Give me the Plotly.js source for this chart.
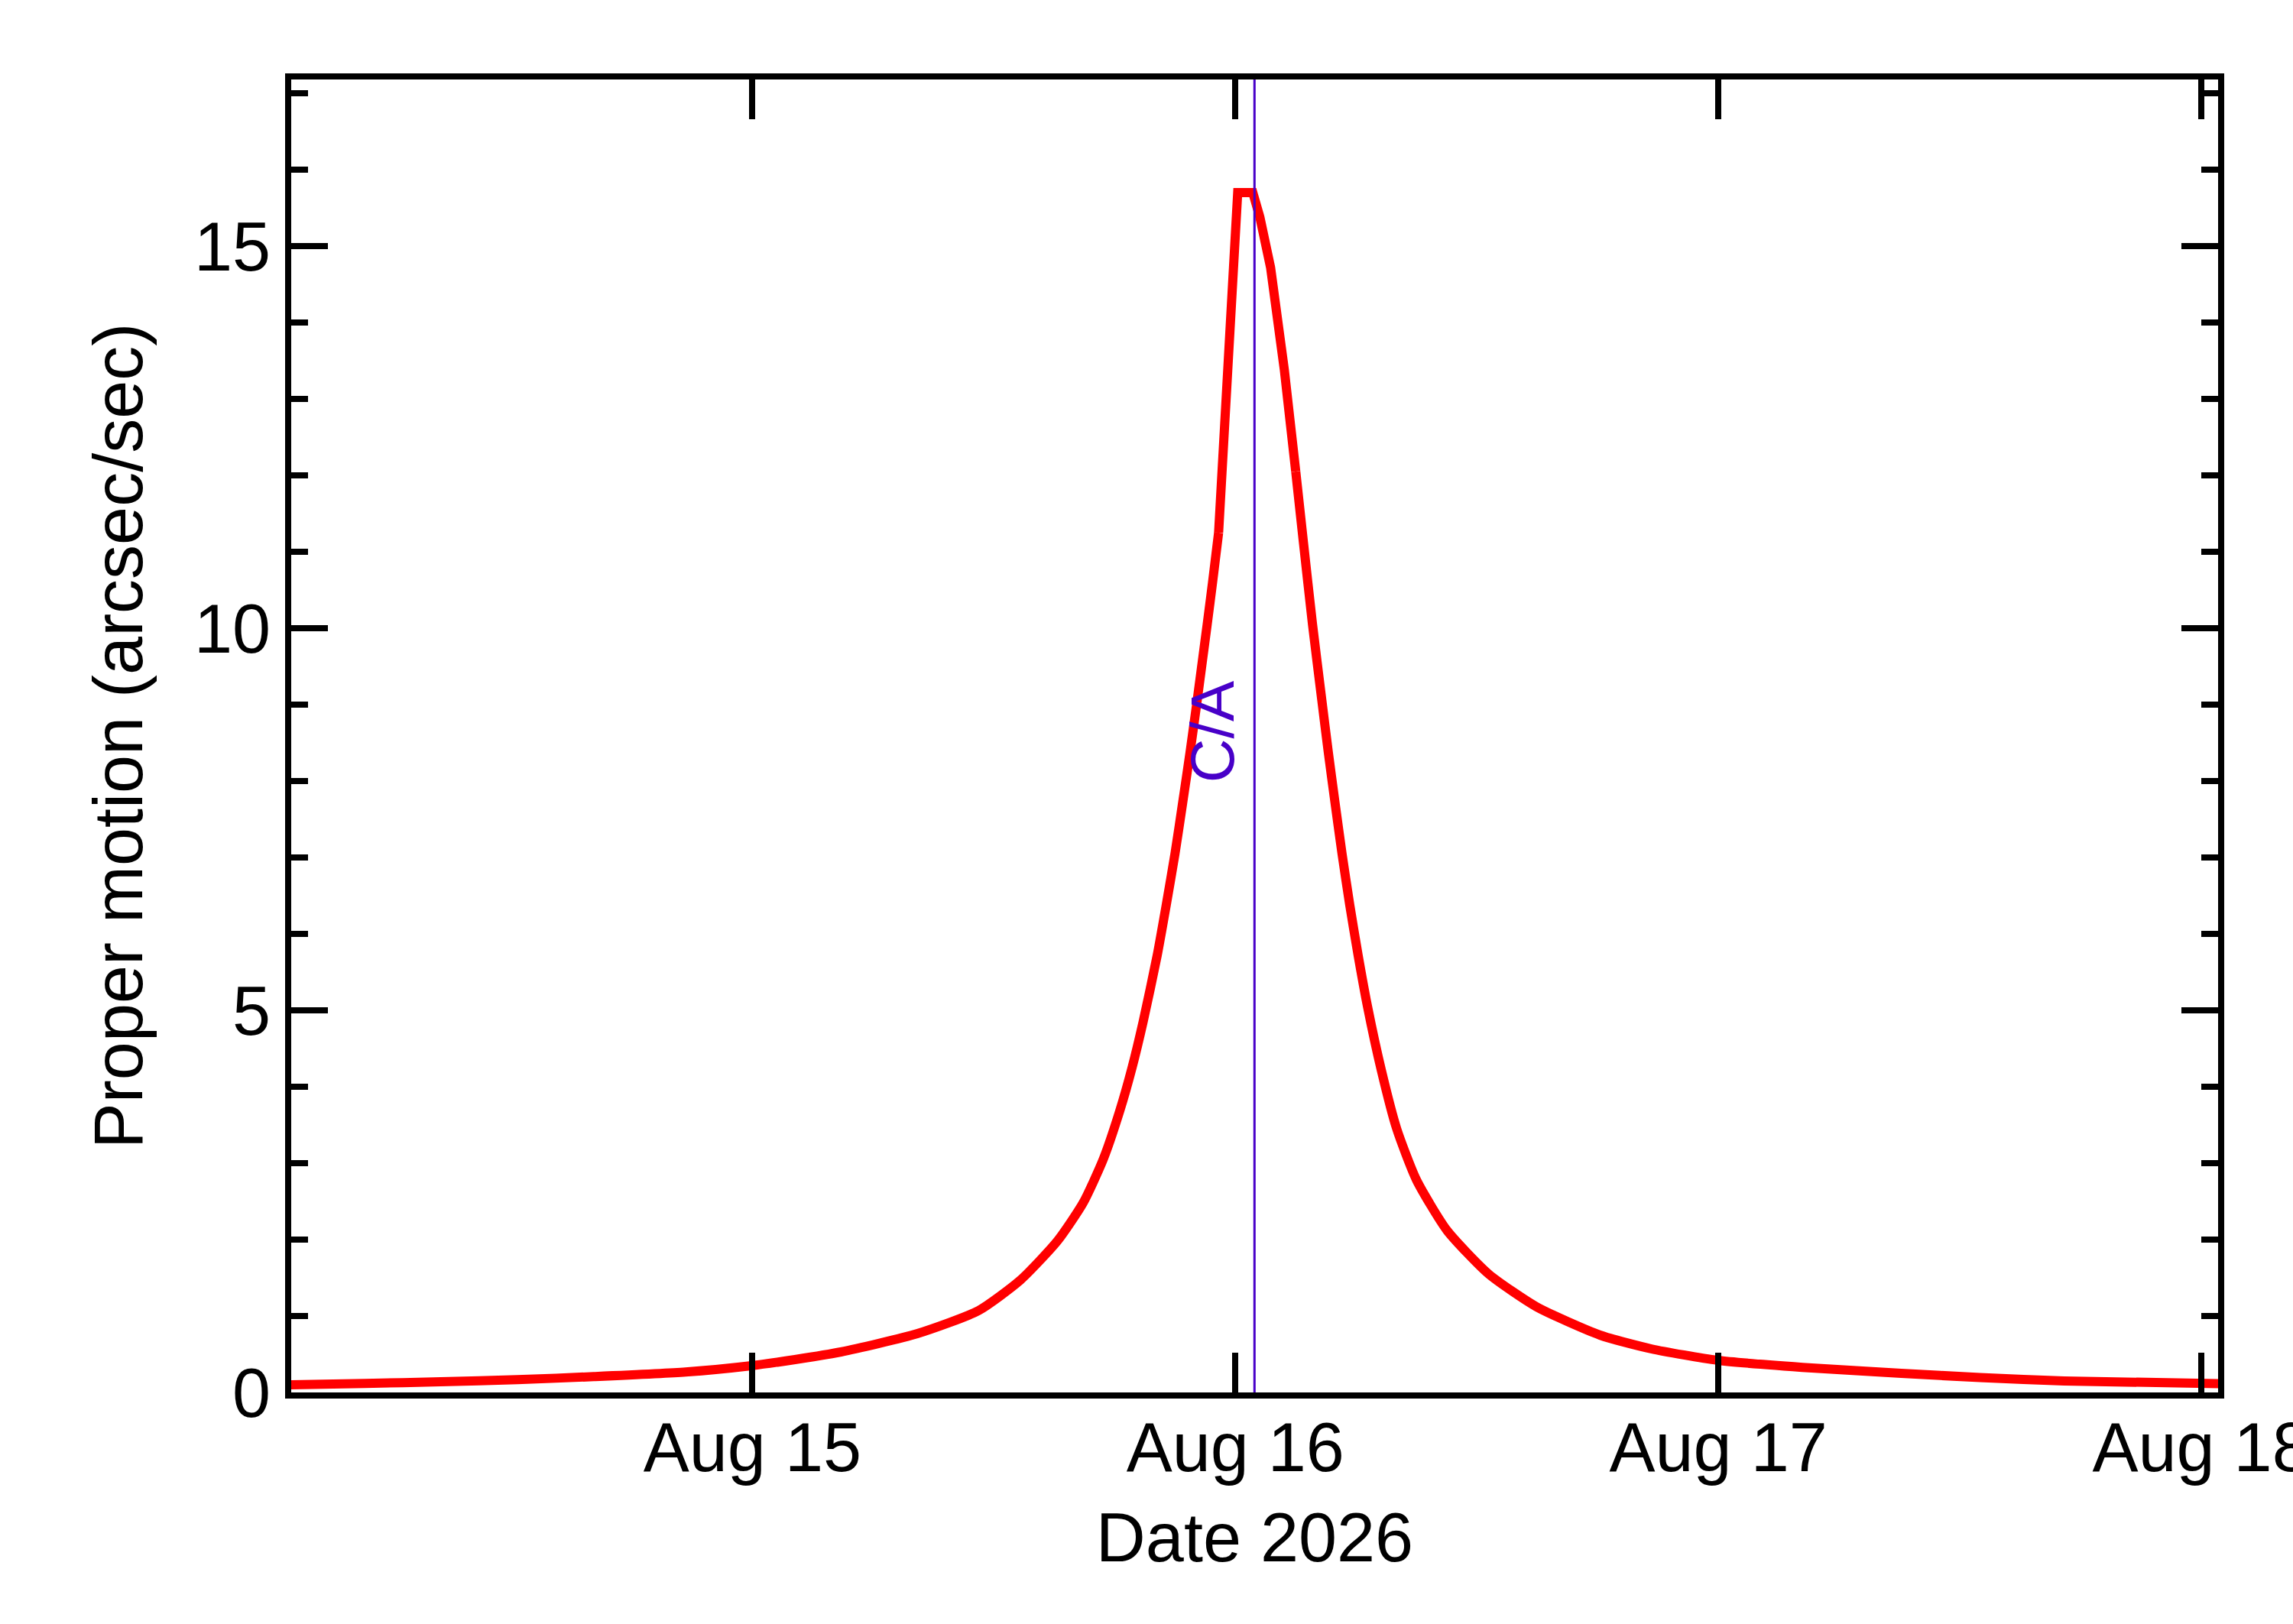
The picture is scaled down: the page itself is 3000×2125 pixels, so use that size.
<!DOCTYPE html>
<html>
<head>
<meta charset="utf-8">
<script src="https://cdn.plot.ly/plotly-3.0.1.min.js"></script>
<style>
  html, body { margin: 0; padding: 0; background: #fff; }
  #plot { width: 3000px; height: 2125px; }
</style>
</head>
<body>
<div id="plot"></div>
<script>
// proper motion, UTC times
const times = [
  '2026-08-14 00:56', '2026-08-14 04:44', '2026-08-14 08:31', '2026-08-14 12:19',
  '2026-08-14 16:07', '2026-08-14 20:41', '2026-08-14 23:57', '2026-08-15 02:07',
  '2026-08-15 04:24', '2026-08-15 08:12', '2026-08-15 11:14', '2026-08-15 13:19',
  '2026-08-15 15:09', '2026-08-15 16:26', '2026-08-15 17:26', '2026-08-15 18:15',
  '2026-08-15 18:52', '2026-08-15 19:25', '2026-08-15 20:07', '2026-08-15 20:34',
  '2026-08-15 21:00', '2026-08-15 21:23', '2026-08-15 21:45', '2026-08-15 22:06',
  '2026-08-15 22:21', '2026-08-15 22:36', '2026-08-15 22:52', '2026-08-15 23:10',
  '2026-08-16 00:07', '2026-08-16 00:52', '2026-08-16 01:13', '2026-08-16 01:45',
  '2026-08-16 02:26', '2026-08-16 03:00', '2026-08-16 03:23', '2026-08-16 03:50',
  '2026-08-16 04:18', '2026-08-16 04:37', '2026-08-16 04:57', '2026-08-16 05:18',
  '2026-08-16 05:41', '2026-08-16 06:06', '2026-08-16 06:34', '2026-08-16 07:15',
  '2026-08-16 08:01', '2026-08-16 09:00', '2026-08-16 10:31', '2026-08-16 12:35',
  '2026-08-16 14:58', '2026-08-16 18:07', '2026-08-16 20:40', '2026-08-16 23:58',
  '2026-08-17 04:39', '2026-08-17 09:05', '2026-08-17 13:00', '2026-08-17 17:11',
  '2026-08-18 00:58'
];
const motion = [
  0.10, 0.117, 0.14, 0.167,
  0.207, 0.267, 0.35, 0.43,
  0.53, 0.77, 1.07, 1.47,
  1.98, 2.48, 3.05, 3.68,
  4.25, 4.85, 5.72, 6.38,
  7.05, 7.72, 8.38, 9.05,
  9.55, 10.05, 10.6, 11.25,
  15.7, 15.7, 15.38, 14.72,
  13.38, 12.05, 11.12, 10.05,
  9.05, 8.38, 7.72, 7.05,
  6.38, 5.72, 5.05, 4.22,
  3.45, 2.78, 2.12, 1.55,
  1.12, 0.75, 0.57, 0.42,
  0.32, 0.25, 0.195, 0.15,
  0.115
];
// the sampled points around the peak are joined by straight segments
const peakFirst = 27, peakLast = 33;

const caTime = '2026-08-16 00:57';
const caLabel = 'C/A';
const xRange = ['2026-08-14 01:05', '2026-08-18 00:50'];
const yRange = [0, 17.18];
const xTitle = 'Date 2026';
const yTitle = 'Proper motion (arcsec/sec)';

const font = 'Liberation Sans, Arial, Helvetica, sans-serif';
const caColor = '#4800c8';

function part(a, b, shape) {
  return {
    x: times.slice(a, b + 1), y: motion.slice(a, b + 1),
    type: 'scatter', mode: 'lines', hoverinfo: 'skip',
    line: shape === 'spline'
      ? { color: '#ff0000', width: 12, shape: 'spline', smoothing: 0.6, simplify: false }
      : { color: '#ff0000', width: 12, shape: 'linear', simplify: false }
  };
}
const traces = [
  part(0, peakFirst, 'spline'),
  part(peakFirst, peakLast, 'linear'),
  part(peakLast, times.length - 1, 'spline')
];

const layout = {
  width: 3000, height: 2125,
  margin: { l: 381, r: 98, t: 104, b: 303 },
  paper_bgcolor: '#fff', plot_bgcolor: '#fff',
  showlegend: false,
  font: { family: font, size: 90, color: '#000' },
  xaxis: {
    type: 'date', range: xRange, automargin: false,
    tick0: '2026-08-15', dtick: 86400000, tickformat: '%b %d',
    ticks: 'inside', ticklen: 52, tickwidth: 8, tickcolor: '#000',
    showline: true, linewidth: 8, linecolor: '#000', mirror: 'ticks',
    showgrid: false, zeroline: false,
    ticklabelstandoff: -13, ticklabeloverflow: 'allow',
    title: { text: xTitle, standoff: 40, font: { size: 90 } }
  },
  yaxis: {
    range: yRange, automargin: false,
    tick0: 0, dtick: 5,
    ticks: 'inside', ticklen: 48, tickwidth: 8, tickcolor: '#000',
    minor: { dtick: 1, ticks: 'inside', ticklen: 22, tickwidth: 8, tickcolor: '#000', showgrid: false },
    showline: true, linewidth: 8, linecolor: '#000', mirror: 'ticks',
    showgrid: false, zeroline: false,
    ticklabelstandoff: 1, ticklabeloverflow: 'allow',
    title: { text: yTitle, standoff: 40, font: { size: 90 } }
  },
  shapes: [{
    type: 'line', xref: 'x', yref: 'paper',
    x0: caTime, x1: caTime, y0: 0, y1: 1,
    line: { color: caColor, width: 3 }
  }],
  annotations: [{
    x: caTime, xref: 'x', y: 8.65, yref: 'y',
    text: caLabel, showarrow: false, textangle: -90,
    xanchor: 'center', yanchor: 'middle', xshift: -55,
    font: { family: font, size: 80, color: caColor }
  }]
};

Plotly.newPlot('plot', traces, layout, { staticPlot: true, displayModeBar: false });
</script>
</body>
</html>
